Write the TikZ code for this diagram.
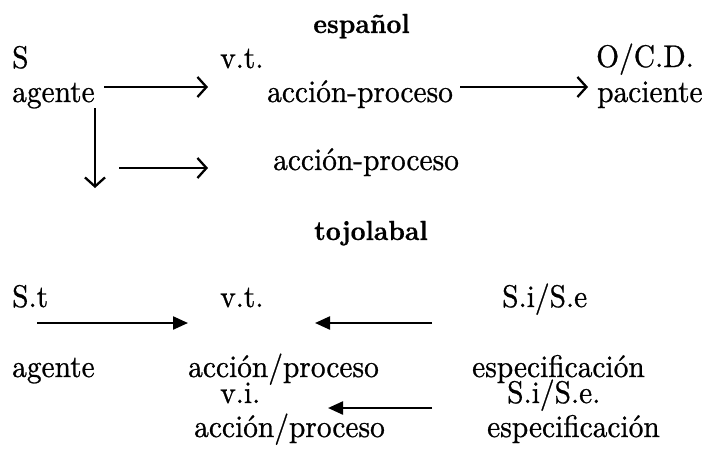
\documentclass[tikz,border=0pt]{standalone}
\usepackage{fontspec}
\setmainfont{lmroman10-regular.otf}[FakeStretch=0.94,FakeBold=0.8]
\newfontfamily\ttlfont{lmroman10-bold.otf}[FakeStretch=0.94,FakeBold=0.6]
\usetikzlibrary{arrows.meta}
\begin{document}
\begin{tikzpicture}[x=1pt,y=-1pt,
  lbl/.style={anchor=base west,inner sep=0pt,font=\fontsize{31.3}{36}\selectfont},
  ttl/.style={anchor=base,inner sep=0pt,font=\ttlfont\fontsize{27.6}{32}\selectfont},
  openarr/.style={line width=2.3pt,-{Straight Barb[length=9pt,width=20pt,line width=2.3pt]}},
  fillarr/.style={line width=2.3pt,-{Triangle[length=15pt,width=13pt]}}]
\useasboundingbox (0,0) rectangle (709,448);
% español
\node[ttl] (esp) at (361.5,33) {español};
\node[lbl] (S) at (12,68) {S};
\node[lbl] (ag1) at (12,102) {agente};
\node[lbl] (vt1) at (220,68) {v.t.};
\node[lbl] (ap1) at (267,102) {acción-proceso};
\node[lbl] (ocd) at (596,67) {O/C.D.};
\node[lbl] (pac) at (597,102) {paciente};
\node[lbl] (ap2) at (273,170) {acción-proceso};
\coordinate (a1s) at (104,87); \coordinate (a1e) at (208,87);
\coordinate (a2s) at (460,87); \coordinate (a2e) at (588,87);
\coordinate (a3s) at (95,108); \coordinate (a3e) at (95,188);
\coordinate (a4s) at (119,168); \coordinate (a4e) at (208,168);
\draw[openarr] (a1s) -- (a1e);
\draw[openarr] (a2s) -- (a2e);
\draw[openarr] (a3s) -- (a3e);
\draw[openarr] (a4s) -- (a4e);
% tojolabal
\node[ttl] (toj) at (371,240) {tojolabal};
\node[lbl] (St) at (12,307) {S.t};
\node[lbl] (vt2) at (220,307) {v.t.};
\node[lbl] (Sie) at (502,307) {S.i/S.e};
\node[lbl] (ag2) at (12,377) {agente};
\node[lbl] (ap3) at (188,377) {acción/proceso};
\node[lbl] (esp1) at (472,377) {especificación};
\node[lbl] (vi) at (220,403) {v.i.};
\node[lbl] (Sie2) at (507,403) {S.i/S.e.};
\node[lbl] (ap4) at (194,437) {acción/proceso};
\node[lbl] (esp2) at (487,437) {especificación};
\coordinate (b1s) at (37,323); \coordinate (b1e) at (188,323);
\coordinate (b2s) at (432,323); \coordinate (b2e) at (315,323);
\coordinate (b3s) at (432,408); \coordinate (b3e) at (328,408);
\draw[fillarr] (b1s) -- (b1e);
\draw[fillarr] (b2s) -- (b2e);
\draw[fillarr] (b3s) -- (b3e);
\end{tikzpicture}
\end{document}
